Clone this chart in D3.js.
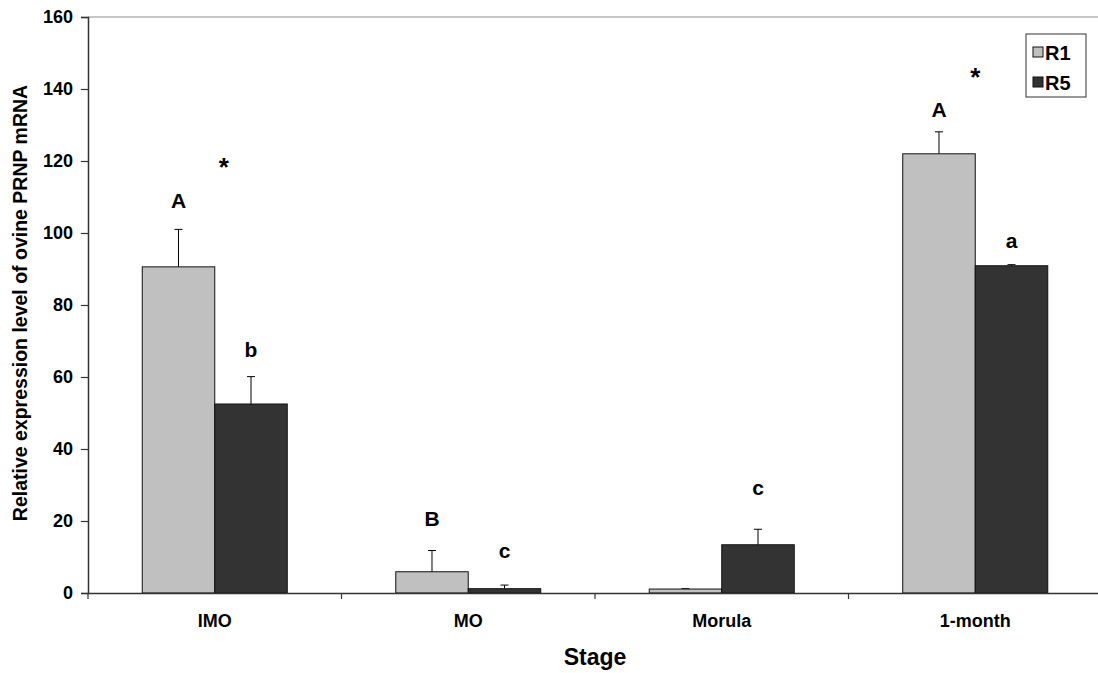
<!DOCTYPE html>
<html><head><meta charset="utf-8">
<script src="https://cdn.jsdelivr.net/npm/d3@7"></script>
<style>
body{margin:0;background:#fff;}
svg text{font-family:"Liberation Sans",Arial,sans-serif;font-weight:bold;fill:#000;}
</style></head>
<body><svg id="c" width="1098" height="673"></svg>
<script>
const stages = ["IMO","MO","Morula","1-month"];
const series = ["R1","R5"];
const r1 = [90.6, 5.9, 1.1, 122.0];
const r5 = [52.5, 1.2, 13.4, 90.9];
const r1Err = [10.4, 5.9, 0.1, 6.1];
const r5Err = [7.6, 1.0, 4.3, 0.3];
const r1Letters = ["A","B","","A"];
const r5Letters = ["b","c","c","a"];
const r1LetterAt = [107.0, 18.6, null, 132.1];
const r5LetterAt = [65.5, 9.6, 27.2, 95.8];
const starAt = [115.8, null, null, 140.8];
const yTicks = [0,20,40,60,80,100,120,140,160];
const colors = {R1:"#c0c0c0", R5:"#333333"};

const svg = d3.select("#c");
const L = 88, R = 1102, T = 17, B = 593;
const x0 = d3.scaleBand().domain(stages).range([L, R]).padding(0);
const bw = x0.bandwidth();
const x1 = d3.scaleBand().domain(series).range([bw*0.214, bw*0.786]).padding(0);
const y = d3.scaleLinear().domain([0,160]).range([B, T]);

const vals = {R1:r1, R5:r5}, errs = {R1:r1Err, R5:r5Err};
const letters = {R1:r1Letters, R5:r5Letters}, letterAt = {R1:r1LetterAt, R5:r5LetterAt};

// top border
svg.append("line").attr("x1",L).attr("x2",1098).attr("y1",y(160)).attr("y2",y(160))
  .attr("stroke","#8c8c8c").attr("stroke-width",1);

const data = [];
stages.forEach((s,i)=>series.forEach(k=>data.push({s,k,v:vals[k][i],e:errs[k][i],l:letters[k][i],la:letterAt[k][i]})));
const g = svg.append("g");
data.forEach(d=>{
  const cx = x0(d.s)+x1(d.k)+x1.bandwidth()/2;
  g.append("line").attr("x1",cx).attr("x2",cx).attr("y1",y(d.v)).attr("y2",y(d.v+d.e)).attr("stroke","#000").attr("stroke-width",1);
  g.append("line").attr("x1",cx-4).attr("x2",cx+4).attr("y1",y(d.v+d.e)).attr("y2",y(d.v+d.e)).attr("stroke","#000").attr("stroke-width",1);
});
g.selectAll("rect").data(data).join("rect")
  .attr("x",d=>x0(d.s)+x1(d.k))
  .attr("y",d=>y(d.v))
  .attr("width",x1.bandwidth())
  .attr("height",d=>y(0)-y(d.v))
  .attr("fill",d=>colors[d.k])
  .attr("stroke","#111").attr("stroke-width",1);

data.filter(d=>d.l).forEach(d=>{
  const cx = x0(d.s)+x1(d.k)+x1.bandwidth()/2;
  svg.append("text").attr("x",cx).attr("y",y(d.la)).attr("text-anchor","middle")
    .style("font-size","21px").text(d.l);
});
stages.forEach((s,i)=>{
  if(starAt[i]==null) return;
  svg.append("text").attr("x",x0(s)+bw/2+(i===0?9:0)).attr("y",y(starAt[i])).attr("text-anchor","middle")
    .style("font-size","26px").text("*");
});

const ya = svg.append("g").attr("transform",`translate(${L},0)`)
  .call(d3.axisLeft(y).tickValues(yTicks).tickSize(7).tickPadding(8));
ya.select(".domain").attr("stroke","#333").attr("stroke-width",1.5);
ya.selectAll(".tick line").attr("stroke","#333").attr("stroke-width",1.2);
ya.selectAll(".tick text").style("font-size","18px").attr("fill","#000");

const xa = svg.append("g").attr("transform",`translate(0,${B})`)
  .call(d3.axisBottom(x0).tickSize(0).tickPadding(21));
xa.select(".domain").attr("stroke","#333").attr("stroke-width",1.5);
xa.selectAll(".tick text").style("font-size","18px").attr("fill","#000");
const bounds = stages.map(s=>x0(s)).concat([x0(stages[stages.length-1])+bw]);
svg.append("g").selectAll("line").data(bounds).join("line")
  .attr("x1",d=>d).attr("x2",d=>d).attr("y1",B).attr("y2",B+6)
  .attr("stroke","#333").attr("stroke-width",1.2);

svg.append("text").attr("x",(L+R)/2).attr("y",665).attr("text-anchor","middle")
  .style("font-size","23px").text("Stage");
svg.append("text").attr("transform","translate(27,303) rotate(-90)").attr("text-anchor","middle")
  .style("font-size","19.5px").text("Relative expression level of ovine PRNP mRNA");

const lg = svg.append("g");
lg.append("rect").attr("x",1026).attr("y",34).attr("width",60).attr("height",63)
  .attr("fill","#fff").attr("stroke","#333").attr("stroke-width",1);
series.forEach((k,i)=>{
  lg.append("rect").attr("x",1033).attr("y",47+i*30).attr("width",10).attr("height",10)
    .attr("fill",colors[k]).attr("stroke","#111").attr("stroke-width",1);
  lg.append("text").attr("x",1045).attr("y",60+i*30).style("font-size","20px").text(k);
});
</script></body></html>
